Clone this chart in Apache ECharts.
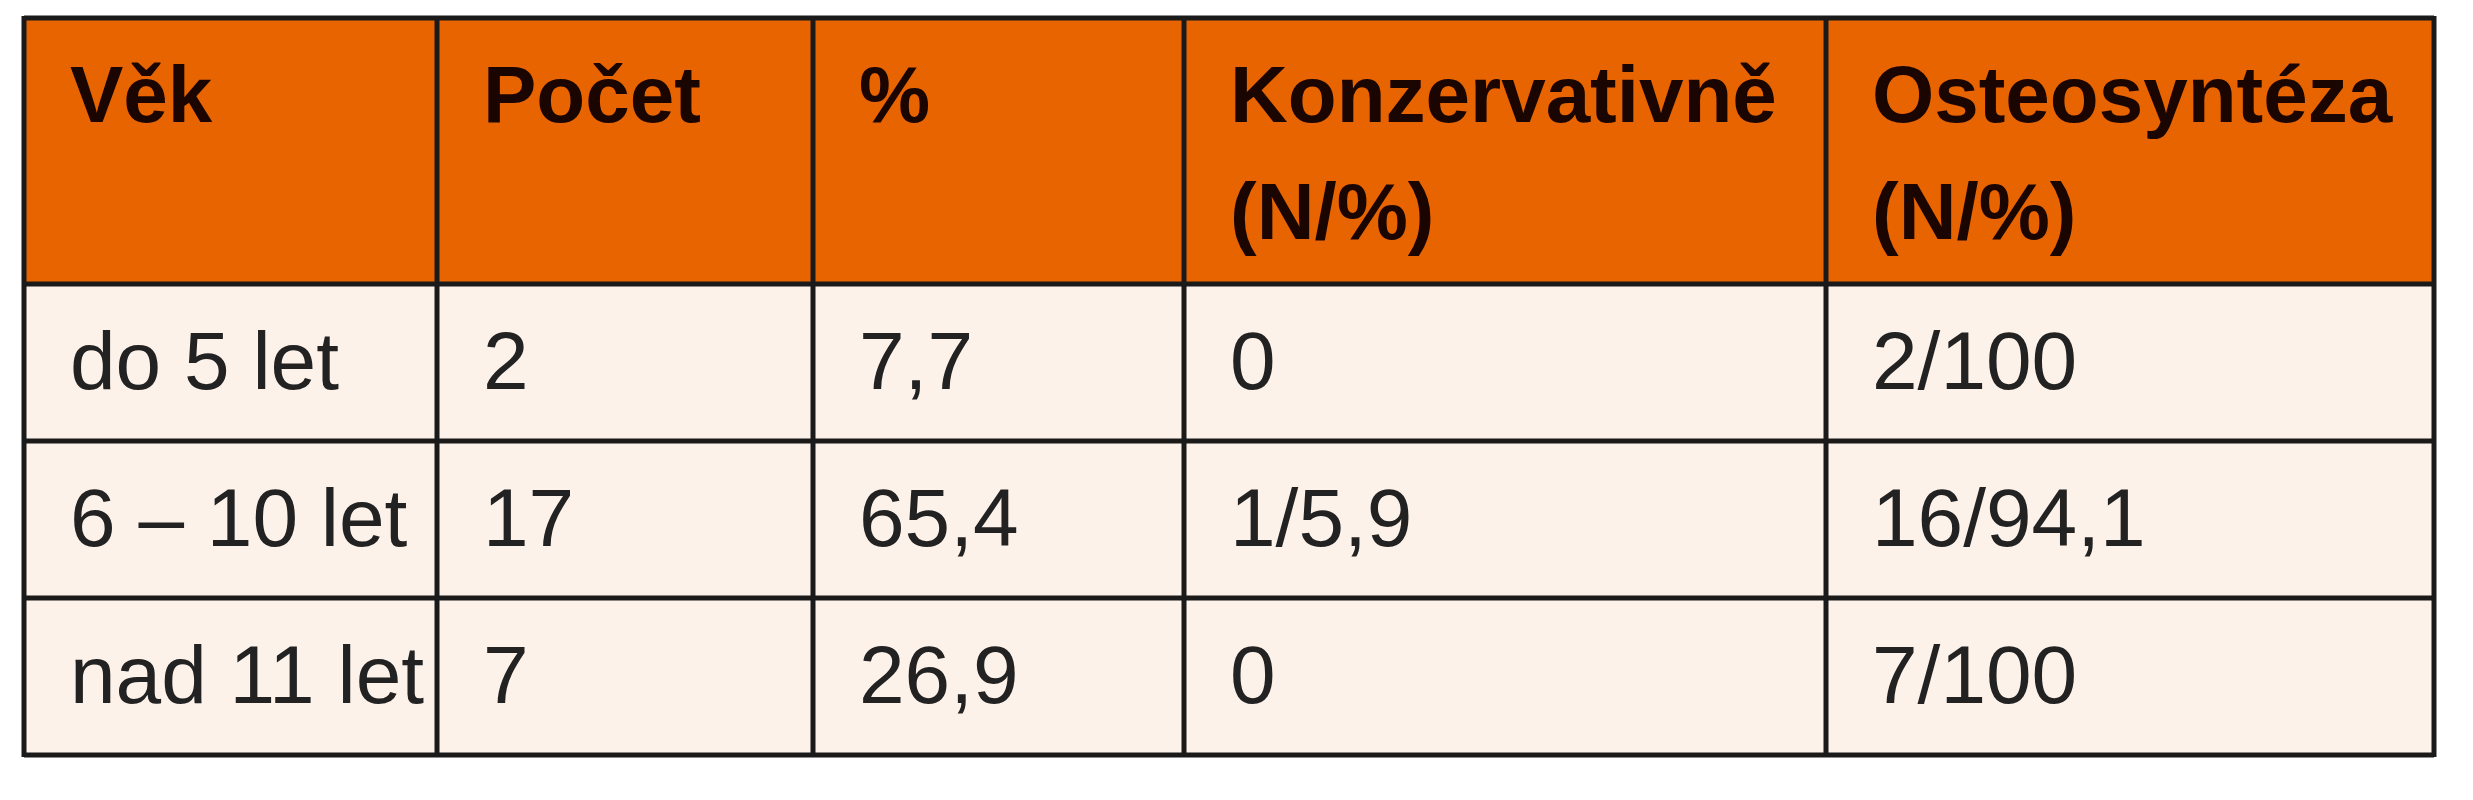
<!DOCTYPE html>
<html><head><meta charset="utf-8">
<script src="https://cdn.jsdelivr.net/npm/echarts@6/dist/echarts.min.js"></script>
<style>html,body{margin:0;padding:0;background:#fff}#c{width:2473px;height:800px}</style>
</head><body><div id="c"></div>
<script>
var headers = [["Věk"], ["Počet"], ["%"], ["Konzervativně", "(N/%)"], ["Osteosyntéza", "(N/%)"]];
var ages = ["do 5 let", "6 – 10 let", "nad 11 let"];
var counts = ["2", "17", "7"];
var percents = ["7,7", "65,4", "26,9"];
var conservative = ["0", "1/5,9", "0"];
var osteosynthesis = ["2/100", "16/94,1", "7/100"];

var colX = [24, 437, 813, 1184, 1826, 2434];
var rowY = [18, 284, 441, 598, 755];
var font = '"Liberation Sans Narrow", "Liberation Sans", sans-serif';
var els = [];
// backgrounds
els.push({type:'rect', shape:{x:colX[0], y:rowY[0], width:colX[5]-colX[0], height:rowY[1]-rowY[0]}, style:{fill:'#E86400'}});
els.push({type:'rect', shape:{x:colX[0], y:rowY[1], width:colX[5]-colX[0], height:rowY[4]-rowY[1]}, style:{fill:'#FDF2EA'}});
// header text
headers.forEach(function(h, i){
  h.forEach(function(line, j){
    els.push({type:'text', x:colX[i]+46, y:100+j*117, style:{text:line, font:'bold 80px '+font, fill:'#1a0500', verticalAlign:'middle', align:'left'}});
  });
});
var cols = [ages, counts, percents, conservative, osteosynthesis];
cols.forEach(function(col, i){
  col.forEach(function(v, r){
    els.push({type:'text', x:colX[i]+46, y:(rowY[r+1]+rowY[r+2])/2+4, style:{text:v, font:'82px '+font, fill:'#222', verticalAlign:'middle', align:'left'}});
  });
});
// grid lines
rowY.forEach(function(y){
  els.push({type:'line', shape:{x1:colX[0], y1:y, x2:colX[5], y2:y}, style:{stroke:'#1a1a1a', lineWidth:5}});
});
colX.forEach(function(x){
  els.push({type:'line', shape:{x1:x, y1:rowY[0]-2, x2:x, y2:rowY[4]+2}, style:{stroke:'#1a1a1a', lineWidth:5}});
});
var chart = echarts.init(document.getElementById('c'));
chart.setOption({animation:false, graphic:{elements:els}});
</script></body></html>
